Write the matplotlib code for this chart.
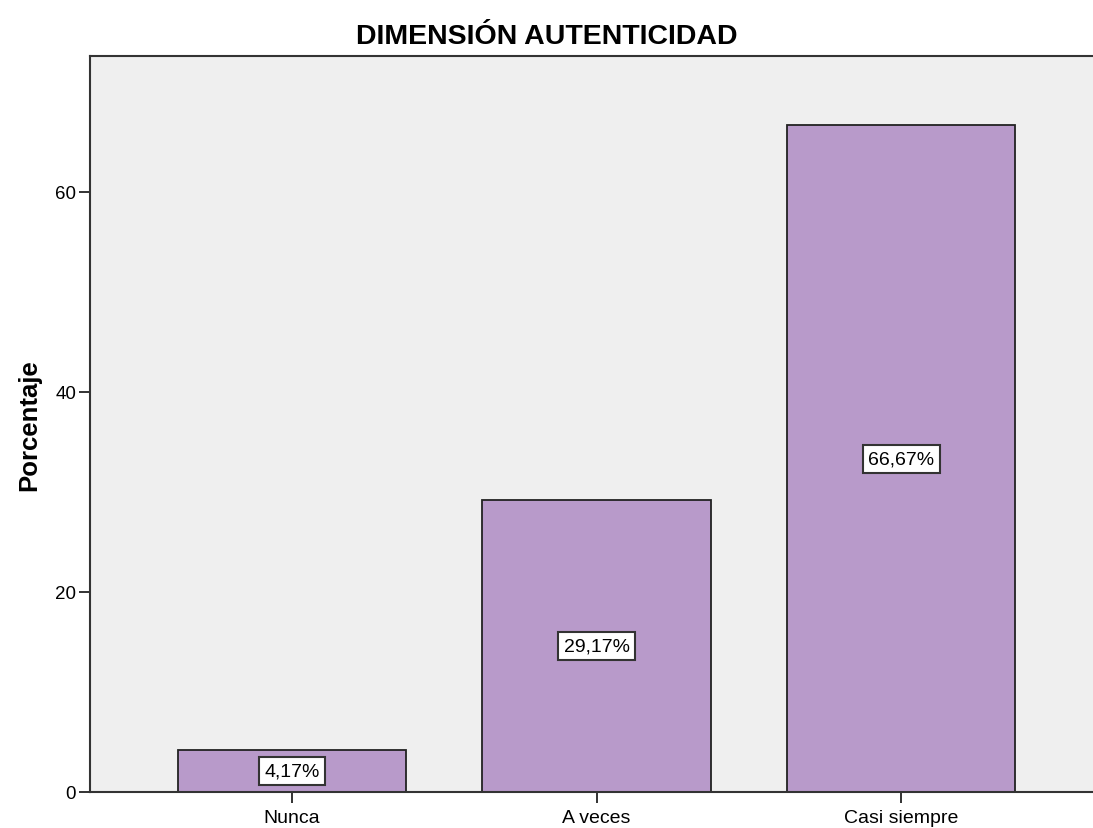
import matplotlib
matplotlib.use("Agg")
import matplotlib.pyplot as plt

categories = ["Nunca", "A veces", "Casi siempre"]
values = [4.17, 29.17, 66.67]
labels = ["4,17%", "29,17%", "66,67%"]
yticks = [0, 20, 40, 60]

plt.rcParams['font.family'] = ['Liberation Sans', 'DejaVu Sans']

fig = plt.figure(figsize=(10.93, 8.29), dpi=100)
ax = fig.add_axes([90/1093, 36/829, 1 - 90/1093, (793-57)/829])
ax.set_facecolor('#efefef')

x = list(range(len(categories)))
ax.bar(x, values, width=0.75, color='#b89aca', edgecolor='#222222', linewidth=1.3, zorder=2)

for xi, v, lab in zip(x, values, labels):
    ax.text(xi, v / 2, lab, ha='center', va='center', fontsize=14, color='black', zorder=3,
            bbox=dict(boxstyle='square,pad=0.28', facecolor='white', edgecolor='#333333', linewidth=1.5))

ax.set_xlim(-0.663, 2.63)
ax.set_ylim(0, 73.6)
ax.set_xticks(x)
ax.set_xticklabels(categories, fontsize=14)
ax.set_yticks(yticks)
ax.set_yticklabels([str(t) for t in yticks], fontsize=13.5)
ax.tick_params(axis='both', direction='out', length=8, width=1.3, color='#222222', pad=2)
ax.tick_params(axis='x', pad=4)

for s in ['left', 'top', 'bottom']:
    ax.spines[s].set_color('#333333')
    ax.spines[s].set_linewidth(1.5)
ax.spines['right'].set_visible(False)

ax.set_ylabel("Porcentaje", fontsize=18.5, fontweight='bold', labelpad=10)
fig.text(0.5, 1 - 37/829, "DIMENSIÓN AUTENTICIDAD", ha='center', va='center', fontsize=20.5, fontweight='bold')

fig.savefig("out.png", dpi=100)
